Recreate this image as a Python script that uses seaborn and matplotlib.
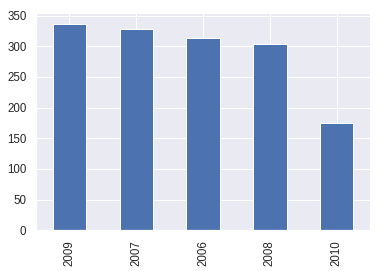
import matplotlib
matplotlib.use("Agg")
import matplotlib.pyplot as plt
import seaborn as sns
import pandas as pd

years = ["2009", "2007", "2006", "2008", "2010"]
counts = [337, 328, 314, 304, 175]

sns.set_theme(style="darkgrid")
plt.rcParams["font.family"] = ["Liberation Sans", "DejaVu Sans"]
df = pd.DataFrame({"year": years, "count": counts})

fig = plt.figure(figsize=(383 / 72, 271 / 72), dpi=72)
ax = fig.add_axes([36 / 383, 1 - 230.3 / 271, (370 - 36) / 383, (230.3 - 13.3) / 271])
sns.barplot(data=df, x="year", y="count", order=years, color="#4C72B0",
            saturation=1, width=0.5, edgecolor="white", linewidth=1, ax=ax)
ax.set_xlim(-0.5, len(years) - 0.5)
ax.set_ylim(0, max(counts) * 1.05)
ax.set_yticks(range(0, 351, 50))
ax.xaxis.grid(True, color="white", linewidth=1)
ax.set_axisbelow(True)
ax.set_xlabel("")
ax.set_ylabel("")
ax.tick_params(axis="both", labelsize=11.5, colors=".15")
plt.setp(ax.get_xticklabels(), rotation=90)
fig.savefig("out.png", dpi=72)
